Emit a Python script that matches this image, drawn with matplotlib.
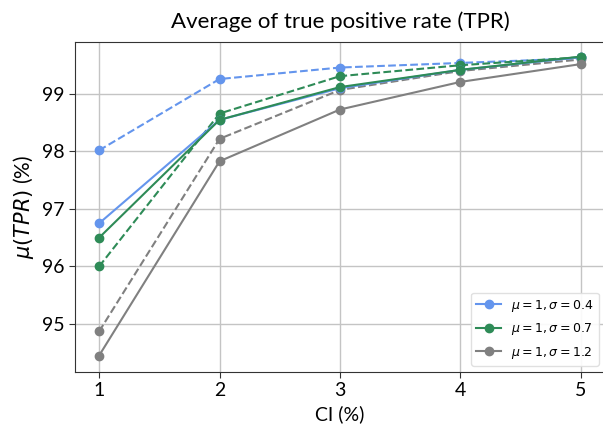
import matplotlib
matplotlib.use("Agg")
import matplotlib.pyplot as plt

ci = [1, 2, 3, 4, 5]
labels = [r"$\mu=1,\sigma=0.4$", r"$\mu=1,\sigma=0.7$", r"$\mu=1,\sigma=1.2$"]
colors = ["#6495ED", "#2E8B57", "#808080"]

solid_04 = [96.75, 98.55, 99.10, 99.42, 99.64]
solid_07 = [96.50, 98.55, 99.12, 99.42, 99.65]
solid_12 = [94.45, 97.83, 98.73, 99.21, 99.52]

dashed_04 = [98.02, 99.26, 99.46, 99.54, 99.62]
dashed_07 = [96.00, 98.66, 99.31, 99.50, 99.64]
dashed_12 = [94.87, 98.22, 99.07, 99.40, 99.60]

plt.rcParams['font.family'] = ['Lato', 'DejaVu Sans']
plt.rcParams['mathtext.fontset'] = 'dejavusans'

fig = plt.figure(figsize=(6.03, 4.33), dpi=100)
ax = fig.add_axes([75/603, 61/433, 530/603, 330/433])

for ys, c in zip([dashed_04, dashed_07, dashed_12], colors):
    ax.plot(ci, ys, '--', color=c, marker='o', markersize=6, linewidth=1.5)
for ys, c, lab in zip([solid_04, solid_07, solid_12], colors, labels):
    ax.plot(ci, ys, '-', color=c, marker='o', markersize=6, linewidth=1.5, label=lab)

ax.set_xlim(0.8, 5.2)
ax.set_ylim(94.165, 99.904)
ax.set_xticks(ci)
ax.set_yticks([95, 96, 97, 98, 99])
ax.grid(True, color='#c4c4c4', linewidth=1.0)
ax.set_axisbelow(True)
ax.tick_params(labelsize=14, length=4, color='#333333')
for s in ax.spines.values():
    s.set_color('#333333')

ax.set_title("Average of true positive rate (TPR)", fontsize=16, pad=10)
ax.set_xlabel("CI (%)", fontsize=14)
ax.set_ylabel(r"$\mu(TPR)$ (%)", fontsize=15)

ax.legend(loc='lower right', fontsize=9, framealpha=0.9, edgecolor='#dddddd',
          labelspacing=0.6)

fig.savefig("out.png", dpi=100)
